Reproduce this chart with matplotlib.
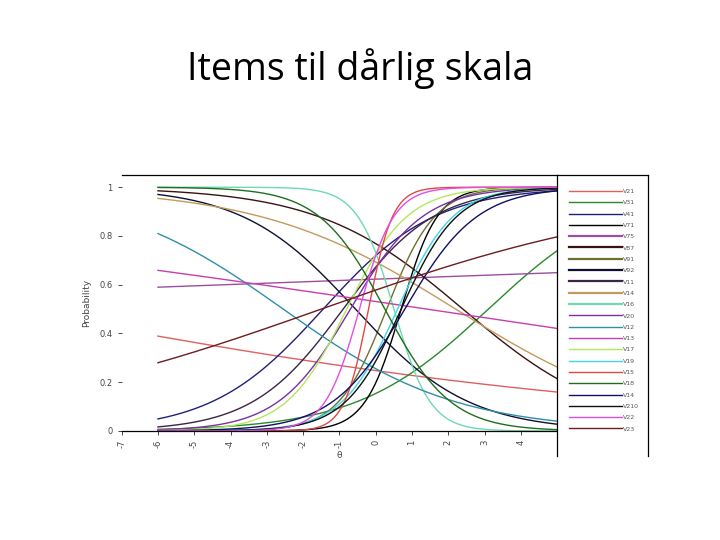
import numpy as np
import matplotlib
matplotlib.use('Agg')
from matplotlib import pyplot as plt
from matplotlib.lines import Line2D

# item labels (legend order)
items = ['V21', 'V31', 'V41', 'V71', 'V75', 'V87', 'V91', 'V92', 'V11', 'V14', 'V16',
         'V20', 'V12', 'V13', 'V17', 'V19', 'V15', 'V18', 'V14', 'V210', 'V22', 'V23']
colors = ['#e06060', '#2a8a2a', '#20207a', '#000000', '#9c4fa0', '#3a1212', '#6f6f30',
          '#10102e', '#3c2448', '#c49a5a', '#6fd8b4', '#7a2fa6', '#2f8fa8', '#c63fb0',
          '#b4e85c', '#3fd6e6', '#e04848', '#1f6e1f', '#101064', '#111111', '#e24ee2',
          '#6e1c1c']
widths = [1.0, 1.0, 1.0, 1.0, 1.6, 1.6, 1.6, 1.6, 1.6, 1.6, 1.6,
          1.0, 1.0, 1.0, 1.0, 1.0, 1.0, 1.0, 1.0, 1.0, 1.0, 1.0]

# 2PL item parameters (negative slope = falling curve)
slope = [-0.11, 0.55, 0.65, 2.0, 0.023, -0.5, 1.5, -0.64, 0.8, -0.37, -2.0,
         1.0, -0.42, -0.089, 1.2, 1.3, 3.0, -1.1, 1.0, 1.3, 2.1, 0.21]
location = [-10.1, 3.1, -1.45, 0.7, -21.8, 2.4, 0.3, -0.56, -0.9, 2.2, 0.5,
            -0.7, -2.55, 1.4, -0.8, 0.6, -0.2, 0.25, 0.8, 0.7, -0.45, -1.5]

theta = np.linspace(-6, 5, 400)

fig = plt.figure(figsize=(7.2, 5.4), dpi=100)
fig.text(0.5, 0.873, 'Items til dårlig skala', ha='center', va='center',
         fontsize=27, family='Open Sans')

ax = fig.add_axes([0.169, 0.2019, 0.605, 0.474])
for a, b, c in zip(slope, location, colors):
    p = 1.0 / (1.0 + np.exp(-a * (theta - b)))
    ax.plot(theta, p, color=c, lw=1.0)

ax.set_xlim(-7, 5)
ax.set_ylim(0, 1.05)
ax.spines['left'].set_visible(False)
ax.spines['right'].set_visible(False)
ax.spines['top'].set_linewidth(0.9)
ax.spines['bottom'].set_linewidth(0.9)
ax.set_yticks([0, 0.2, 0.4, 0.6, 0.8, 1])
ax.set_yticklabels(['0', '0.2', '0.4', '0.6', '0.8', '1'])
ax.set_xticks(range(-7, 5))
ax.set_xticklabels([str(v) for v in range(-7, 5)], rotation=90)
ax.tick_params(axis='both', labelsize=6, colors='#444444', length=3, width=0.7)
ax.set_ylabel('Probability', fontsize=6.5, color='#444444', labelpad=6)
ax.set_xlabel('θ', fontsize=6.5, color='#444444', labelpad=2)

# legend panel
lax = fig.add_axes([557 / 720, 1 - 456 / 540, 91 / 720, 281 / 540])
lax.set_xticks([])
lax.set_yticks([])
lax.spines['bottom'].set_visible(False)
for s in ['left', 'top', 'right']:
    lax.spines[s].set_linewidth(0.9)
handles = [Line2D([], [], color=c, lw=w) for c, w in zip(colors, widths)]
lax.legend(handles, items, loc='upper left', frameon=False, fontsize=4.5,
           handlelength=8.5, handletextpad=0.2, labelspacing=0.95,
           borderaxespad=0.0, bbox_to_anchor=(0.1, 0.96), labelcolor='#555555')

fig.savefig('out.png', dpi=100)
